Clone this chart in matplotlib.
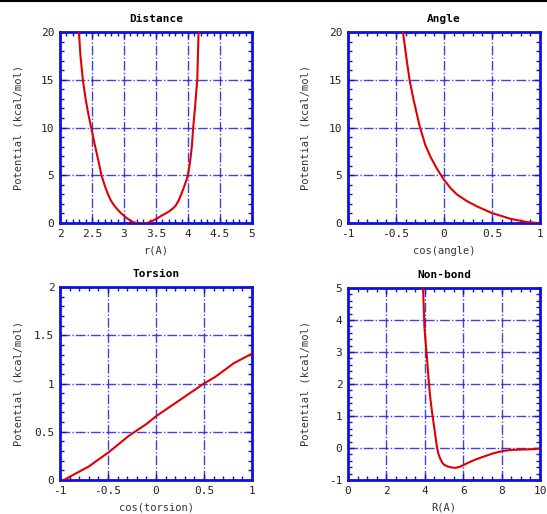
import matplotlib
matplotlib.use("Agg")
import matplotlib.pyplot as plt
from matplotlib.ticker import MultipleLocator, FormatStrFormatter

plt.rcParams['font.family'] = ['DejaVu Sans Mono']

# values
dist_r = [2.295, 2.32, 2.357, 2.40, 2.44, 2.487, 2.54, 2.60, 2.648, 2.70, 2.75, 2.80,
          2.85, 2.90, 2.95, 3.00, 3.05, 3.10, 3.15, 3.20, 3.28, 3.36, 3.40, 3.45,
          3.50, 3.55, 3.60, 3.65, 3.70, 3.75, 3.80, 3.85, 3.90, 3.95, 3.995, 4.03,
          4.06, 4.08, 4.11, 4.13, 4.145, 4.155, 4.165]
dist_e = [20.0, 17.5, 15.0, 13.0, 11.5, 10.0, 8.3, 6.5, 5.0, 3.9, 3.0, 2.3,
          1.8, 1.4, 1.05, 0.75, 0.48, 0.26, 0.08, 0.0, -0.05, 0.0, 0.1, 0.25,
          0.42, 0.62, 0.82, 1.0, 1.2, 1.45, 1.75, 2.3, 3.1, 4.0, 4.9, 6.3,
          8.0, 9.9, 12.1, 13.8, 15.0, 17.5, 20.0]

ang_c = [-0.428, -0.393, -0.359, -0.317, -0.255, -0.196, -0.144, -0.075, -0.005,
         0.064, 0.133, 0.237, 0.341, 0.497, 0.688, 0.861, 0.983]
ang_e = [20.0, 17.4, 15.0, 12.9, 10.2, 8.2, 7.0, 5.7, 4.6,
         3.7, 3.0, 2.3, 1.75, 1.05, 0.45, 0.10, 0.0]

tor_c = [-0.96, -0.85, -0.70, -0.49, -0.28, -0.10, 0.0, 0.25, 0.5, 0.62, 0.81, 1.0]
tor_e = [0.0, 0.06, 0.14, 0.29, 0.46, 0.58, 0.66, 0.83, 1.0, 1.07, 1.21, 1.31]

nb_r = [3.91, 3.95, 3.98, 4.05, 4.12, 4.19, 4.26, 4.36, 4.46, 4.55, 4.64, 4.72,
        4.80, 4.90, 5.00, 5.20, 5.42, 5.60, 5.80, 6.00, 6.19, 6.60, 7.06, 7.60,
        8.10, 8.50, 8.96, 9.50, 10.0]
nb_e = [5.0, 4.3, 3.8, 3.25, 2.76, 2.2, 1.71, 1.2, 0.77, 0.38, 0.0, -0.2,
        -0.33, -0.45, -0.52, -0.58, -0.61, -0.62, -0.59, -0.54, -0.48, -0.37, -0.27, -0.16,
        -0.09, -0.06, -0.05, -0.04, -0.02]

titles = ["Distance", "Angle", "Torsion", "Non-bond"]
xlabels = ["r(A)", "cos(angle)", "cos(torsion)", "R(A)"]
xlims = [(2, 5), (-1, 1), (-1, 1), (0, 10)]
ylims = [(0, 20), (0, 20), (0, 2), (-1, 5)]
xmaj = [0.5, 0.5, 0.5, 2]
xmin = [0.1, 0.1, 0.1, 0.5]
ymaj = [5, 5, 0.5, 1]
ymin = [1, 1, 0.1, 0.2]
curves = [(dist_r, dist_e), (ang_c, ang_e), (tor_c, tor_e), (nb_r, nb_e)]

blue = '#1010e0'
fig = plt.figure(figsize=(5.47, 5.14), dpi=100)
# axes boxes in pixels: left, top, right, bottom
boxes = [(60, 32, 252, 223), (348, 32, 540, 223), (60, 287, 252, 480), (348, 288, 540, 480)]
W, H = 547, 514

for i in range(4):
    l, t, r, b = boxes[i]
    ax = fig.add_axes([l / W, 1 - b / H, (r - l) / W, (b - t) / H])
    x, y = curves[i]
    ax.plot(x, y, color='#e00000', lw=1.5, zorder=3, solid_joinstyle='round')
    ax.set_xlim(*xlims[i])
    ax.set_ylim(*ylims[i])
    ax.xaxis.set_major_locator(MultipleLocator(xmaj[i]))
    ax.xaxis.set_minor_locator(MultipleLocator(xmin[i]))
    ax.yaxis.set_major_locator(MultipleLocator(ymaj[i]))
    ax.yaxis.set_minor_locator(MultipleLocator(ymin[i]))
    ax.xaxis.set_major_formatter(FormatStrFormatter('%g'))
    ax.yaxis.set_major_formatter(FormatStrFormatter('%g'))
    ax.grid(True, which='major', color='#2020e0', lw=1.0, linestyle=(0, (7, 1.5, 1, 1.5)), alpha=0.85)
    ax.tick_params(which='both', direction='in', top=True, right=True, color=blue,
                   labelsize=8, labelcolor='#222222')
    ax.tick_params(axis='x', which='major', pad=4)
    ax.tick_params(axis='y', which='major', pad=4)
    ax.tick_params(which='major', length=4, width=1)
    ax.tick_params(which='minor', length=3, width=1)
    for s in ax.spines.values():
        s.set_color(blue)
        s.set_linewidth(2)
    ax.text(0.5, 1 + 13 / (b - t), titles[i], transform=ax.transAxes, ha='center', va='center',
            fontsize=8, fontweight='bold')
    ax.set_xlabel(xlabels[i], fontsize=7.5, color='#333333')
    ax.xaxis.set_label_coords(0.5, -27.5 / (b - t))
    ax.set_ylabel("Potential (kcal/mol)", fontsize=7.5, color='#333333')
    ax.yaxis.set_label_coords(-42 / (r - l), 0.5)
    ax.xaxis.label.set_va('center')
    ax.yaxis.label.set_va('center')

# thin black line on top edge
fig.add_artist(plt.Line2D([0, 1], [0.999, 0.999], color='black', lw=1.5, transform=fig.transFigure))

fig.savefig("out.png", dpi=100)
